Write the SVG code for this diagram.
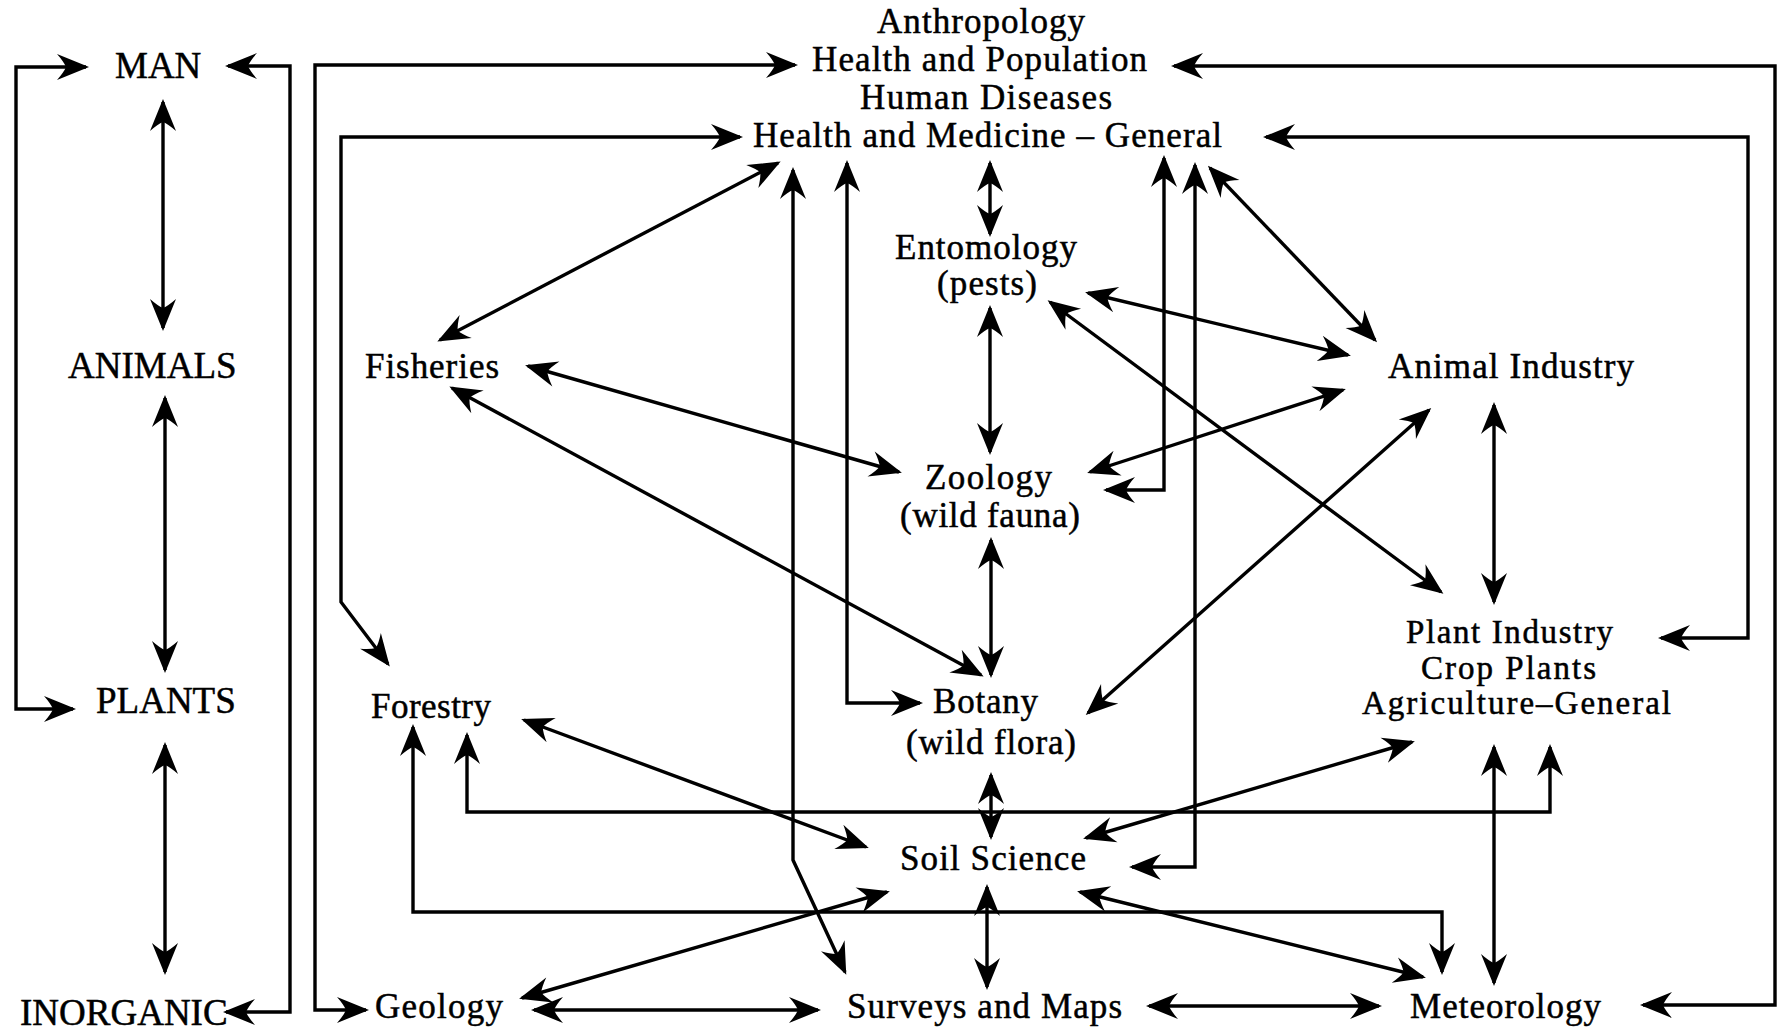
<svg xmlns="http://www.w3.org/2000/svg" width="1788" height="1033" viewBox="0 0 1788 1033">
<style>
text{font-family:"Liberation Serif","Times New Roman",serif;fill:#000;stroke:#000;stroke-width:0.5}
.t{font-size:35px}
.s{font-size:33px}
.c{font-size:37px}
.ln{fill:none;stroke:#000;stroke-width:3.4;marker-start:url(#ah);marker-end:url(#ah)}
</style>
<defs>
<marker id="ah" viewBox="-34 -16 40 32" refX="0" refY="0" markerWidth="40" markerHeight="32" markerUnits="userSpaceOnUse" orient="auto-start-reverse">
<path d="M3,0 L-29,-13 Q-22,-5 -20,0 Q-22,5 -29,13 Z" fill="#000"/>
</marker>
</defs>
<rect width="1788" height="1033" fill="#fff"/>
<g id="nodes">
<g id="man"><text class="c" x="115" y="78">MAN</text></g>
<g id="animals"><text class="c" x="68" y="378">ANIMALS</text></g>
<g id="plants"><text class="c" x="96" y="713">PLANTS</text></g>
<g id="inorganic"><text class="c" x="20" y="1025">INORGANIC</text></g>
<g id="health">
<text class="t" x="877" y="33" textLength="208">Anthropology</text>
<text class="t" x="812" y="71" textLength="335">Health and Population</text>
<text class="t" x="860" y="109" textLength="252">Human Diseases</text>
<text class="t" x="753" y="147" textLength="469">Health and Medicine – General</text>
</g>
<g id="entomology">
<text class="t" x="895" y="259" textLength="182">Entomology</text>
<text class="t" x="937" y="295" textLength="100">(pests)</text>
</g>
<g id="fisheries"><text class="t" x="365" y="378" textLength="134">Fisheries</text></g>
<g id="animal-industry"><text class="t" x="1388" y="378" textLength="246">Animal Industry</text></g>
<g id="zoology">
<text class="t" x="925" y="489" textLength="127">Zoology</text>
<text class="t" x="900" y="527" textLength="180">(wild fauna)</text>
</g>
<g id="plant-industry">
<text class="s" x="1406" y="643" textLength="207">Plant Industry</text>
<text class="s" x="1421" y="679" textLength="175">Crop Plants</text>
<text class="s" x="1362" y="714" textLength="309">Agriculture–General</text>
</g>
<g id="forestry"><text class="t" x="371" y="718" textLength="120">Forestry</text></g>
<g id="botany">
<text class="t" x="933" y="713" textLength="105">Botany</text>
<text class="t" x="906" y="754" textLength="170">(wild flora)</text>
</g>
<g id="soil"><text class="t" x="900" y="870" textLength="186">Soil Science</text></g>
<g id="geology"><text class="t" x="375" y="1018" textLength="128">Geology</text></g>
<g id="surveys"><text class="t" x="847" y="1018" textLength="275">Surveys and Maps</text></g>
<g id="meteorology"><text class="t" x="1410" y="1018" textLength="191">Meteorology</text></g>
</g>
<g id="connectors">
<path class="ln" d="M86,67 L16,67 L16,709 L73,709"/>
<path class="ln" d="M228,66 L290,66 L290,1012 L226,1012"/>
<path class="ln" d="M163,102 L163,328"/>
<path class="ln" d="M165,398 L165,670"/>
<path class="ln" d="M165,745 L165,972"/>
<path class="ln" d="M366,1010 L315,1010 L315,65 L795,65"/>
<path class="ln" d="M1174,66 L1775,66 L1775,1005 L1643,1005"/>
<path class="ln" d="M740,137 L341,137 L341,602 L388,664"/>
<path class="ln" d="M1266,137 L1748,137 L1748,638 L1661,638"/>
<path class="ln" d="M990,163 L990,234"/>
<path class="ln" d="M990,308 L990,452"/>
<path class="ln" d="M991,540 L991,675"/>
<path class="ln" d="M991,775 L991,837"/>
<path class="ln" d="M987,887 L987,987"/>
<path class="ln" d="M534,1010 L818,1010"/>
<path class="ln" d="M1149,1006 L1379,1006"/>
<path class="ln" d="M522,998 L887,892"/>
<path class="ln" d="M1080,892 L1423,977"/>
<path class="ln" d="M524,720 L866,847"/>
<path class="ln" d="M1086,838 L1412,742"/>
<path class="ln" d="M793,170 L793,860 L845,972"/>
<path class="ln" d="M847,163 L847,703 L920,703"/>
<path class="ln" d="M1164,158 L1164,490 L1106,490"/>
<path class="ln" d="M1195,165 L1195,867 L1132,867"/>
<path class="ln" d="M778,163 L440,340"/>
<path class="ln" d="M1210,168 L1375,340"/>
<path class="ln" d="M1088,293 L1348,355"/>
<path class="ln" d="M1050,302 L1441,592"/>
<path class="ln" d="M1090,472 L1343,390"/>
<path class="ln" d="M1088,713 L1429,410"/>
<path class="ln" d="M1494,405 L1494,602"/>
<path class="ln" d="M1494,747 L1494,983"/>
<path class="ln" d="M528,366 L899,472"/>
<path class="ln" d="M452,388 L981,675"/>
<path class="ln" d="M467,735 L467,812 L1550,812 L1550,747"/>
<path class="ln" d="M413,727 L413,912 L1442,912 L1442,972"/>
</g>
</svg>
